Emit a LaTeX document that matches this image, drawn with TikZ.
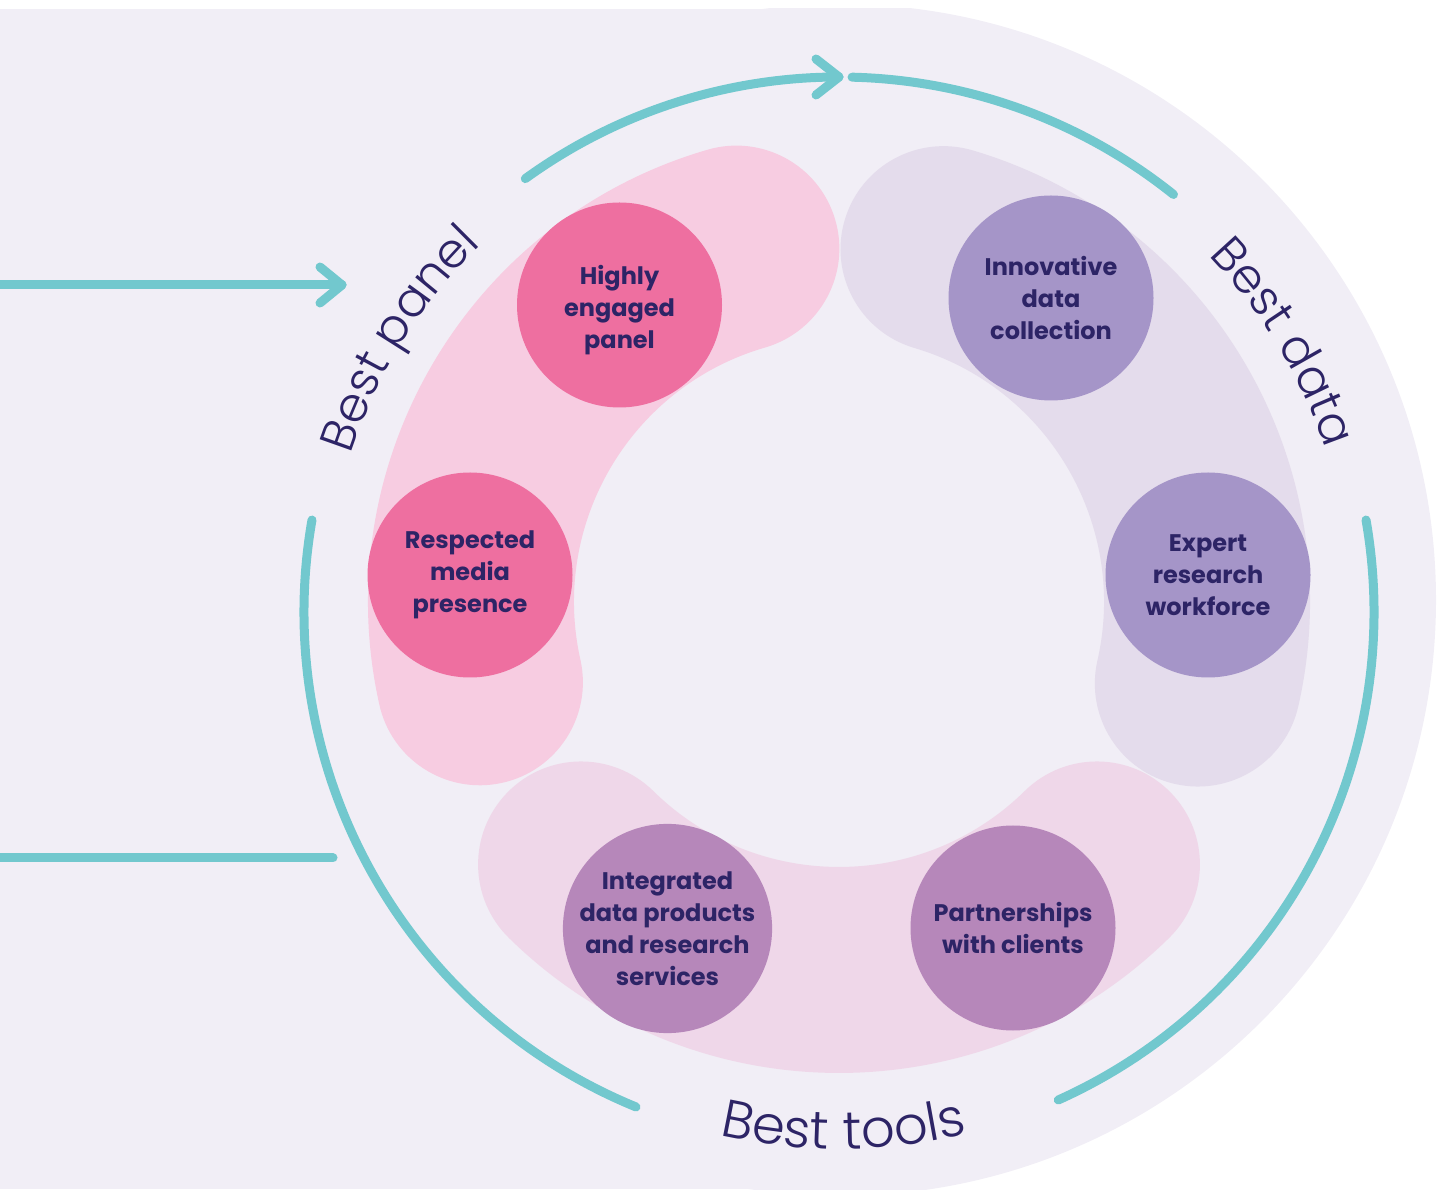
\documentclass[tikz,border=0pt]{standalone}
\usepackage{fontspec}
\setmainfont{Poppins}
\newfontfamily\pillarfont{Poppins Bold}
\newfontfamily\ringfont{Poppins Light}
\usetikzlibrary{decorations.text}

\definecolor{bgpurple}{HTML}{F1EEF6}
\definecolor{panelblob}{HTML}{F7CCE1}
\definecolor{datablob}{HTML}{E4DCEC}
\definecolor{toolsblob}{HTML}{EFD7E9}
\definecolor{panelpink}{HTML}{EE6FA0}
\definecolor{datalilac}{HTML}{A595C8}
\definecolor{toolsmauve}{HTML}{B687BA}
\definecolor{ringteal}{HTML}{72C8CE}
\definecolor{inkblue}{HTML}{2D2466}

\begin{document}
\begin{tikzpicture}[x=1pt,y=1pt]
	\tikzstyle{blob}=[line width=206pt,line cap=round]
	\tikzstyle{pillar}=[circle,minimum size=205pt,inner sep=0pt,align=center,text=inkblue,font=\pillarfont\fontsize{24}{32}\selectfont]
	\tikzstyle{ring}=[draw=ringteal,line width=9pt,line cap=round,line join=round]
	\tikzstyle{ringlabel}=[decorate,decoration={text along path,text align=center,text color=inkblue}]
	\useasboundingbox (0,0) rectangle (1442,1189);
	\coordinate (o) at (839,587);
	\coordinate (c) at (839,577);

	% backdrop
	\begin{scope}
		\clip (0,0) rectangle (1442,1180);
		\fill[bgpurple] (0,0) rectangle (840,1180);
		\fill[bgpurple] (840,589) circle[radius=596];
	\end{scope}

	% the three bands
	\draw[blob,datablob] ([shift={(73.5:368)}]o) arc[start angle=73.5,end angle=-12.8,radius=368];
	\draw[blob,panelblob] ([shift={(192.6:368)}]o) arc[start angle=192.6,end angle=106.2,radius=368];
	\draw[blob,toolsblob] ([shift={(225.5:368)}]o) arc[start angle=225.5,end angle=314.5,radius=368];

	% pillars
	\node[pillar,fill=panelpink] (engaged) at (619.5,884) {\rule{0pt}{29pt}Highly\\engaged\\panel};
	\node[pillar,fill=panelpink] (media) at (470,614) {Respected\\media\\presence};
	\node[pillar,fill=datalilac] (collection) at (1051,891) {Innovative\\data\\collection};
	\node[pillar,fill=datalilac] (workforce) at (1208,614) {Expert\\research\\workforce};
	\node[pillar,fill=toolsmauve] (products) at (667.5,260.5) {Integrated\\data products\\and research\\services};
	\node[pillar,fill=toolsmauve] (clients) at (1013,261) {Partnerships\\with clients};

	% outer ring
	\coordinate (tip) at ([shift={(90:535)}]c);
	\draw[ring] ([shift={(125.9:535)}]c) arc[start angle=125.9,end angle=90,radius=535];
	\draw[ring] ([shift={(-23,18)}]tip) -- (tip) -- ([shift={(-23,-18)}]tip);
	\draw[ring] ([shift={(88.6:535)}]c) arc[start angle=88.6,end angle=51.3,radius=535];
	\draw[ring] ([shift={(170.1:535)}]c) arc[start angle=170.1,end angle=247.7,radius=535];
	\draw[ring] ([shift={(9.9:535)}]c) arc[start angle=9.9,end angle=-65.8,radius=535];

	% feeds on the left
	\coordinate (inflow) at (0,904);
	\coordinate (inhead) at (342,904);
	\coordinate (outflow) at (0,331);
	\coordinate (outend) at (333,331);
	\draw[ring] (inflow) -- (inhead);
	\draw[ring] ([shift={(-22,18)}]inhead) -- (inhead) -- ([shift={(-22,-18)}]inhead);
	\draw[ring] (outflow) -- (outend);

	% ring labels
	\path[ringlabel,decoration={text={|\ringfont\fontsize{48}{58}\selectfont|Best panel}}]
		([shift={(191.2:513)}]c) arc[start angle=191.2,end angle=105.2,radius=513];
	\path[ringlabel,decoration={text={|\ringfont\fontsize{48}{58}\selectfont|Best data}}]
		([shift={(74.3:513)}]c) arc[start angle=74.3,end angle=-11.7,radius=513];
	\path[ringlabel,decoration={text={|\ringfont\fontsize{53}{62}\selectfont|Best tools}}]
		([shift={(225.5:537)}]c) arc[start angle=225.5,end angle=315.5,radius=537];
\end{tikzpicture}
\end{document}
